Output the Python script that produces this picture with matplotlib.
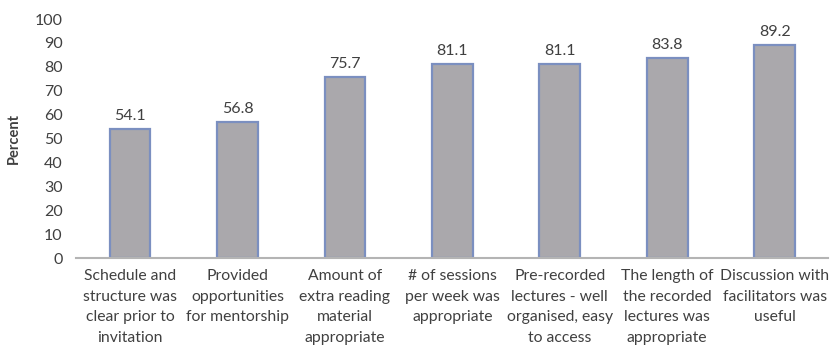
import matplotlib.pyplot as plt

categories = [
    "Schedule and\nstructure was\nclear prior to\ninvitation",
    "Provided\nopportunities\nfor mentorship",
    "Amount of\nextra reading\nmaterial\nappropriate",
    "# of sessions\nper week was\nappropriate",
    "Pre-recorded\nlectures - well\norganised, easy\nto access",
    "The length of\nthe recorded\nlectures was\nappropriate",
    "Discussion with\nfacilitators was\nuseful",
]
percent = [54.1, 56.8, 75.7, 81.1, 81.1, 83.8, 89.2]

plt.rcParams['font.family'] = ['Lato', 'DejaVu Sans']
txt = '#404040'

fig = plt.figure(figsize=(8.3, 3.53), dpi=100)
ax = fig.add_axes([0.092, 0.269, 0.906, 0.677])

x = range(len(percent))
ax.bar(x, percent, width=0.38, color='#aaa8ac', edgecolor='#7b8fc0', linewidth=1.6)

for i, v in enumerate(percent):
    ax.text(i, v + 2.5, f"{v}", ha='center', va='bottom', fontsize=11.5, color=txt)

ax.set_xlim(-0.5, len(percent) - 0.5)
ax.set_ylim(0, 100)
ax.set_yticks(range(0, 101, 10))
ax.set_xticks(list(x))
ax.set_xticklabels(categories, fontsize=11.3, color=txt, linespacing=1.6)
ax.tick_params(axis='y', length=0, labelsize=11.5, labelcolor=txt, pad=10)
ax.tick_params(axis='x', length=0, pad=8)
ax.set_ylabel('Percent', fontsize=10.5, fontweight='bold', color=txt, labelpad=10)

for s in ['top', 'right', 'left']:
    ax.spines[s].set_visible(False)
ax.spines['bottom'].set_color('#b4b4b4')
ax.spines['bottom'].set_linewidth(1.5)

fig.savefig('out.png', dpi=100)
